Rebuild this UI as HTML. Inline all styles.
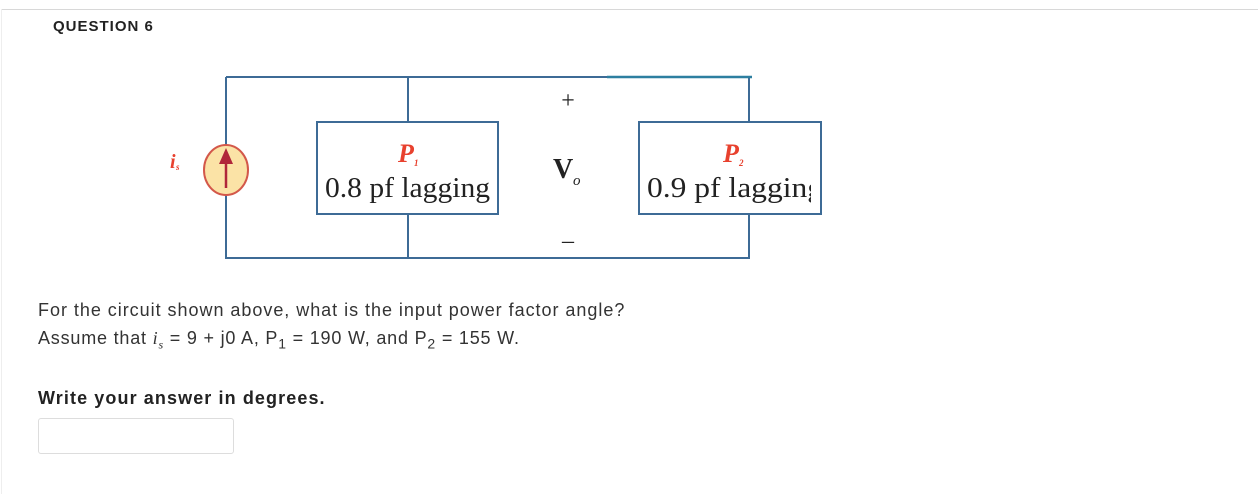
<!DOCTYPE html>
<html><head><style>
body{margin:0;width:1258px;height:494px;background:#fff;position:relative;overflow:hidden;font-family:"Liberation Sans",sans-serif;color:#222}
.t{position:absolute;white-space:nowrap}
</style></head><body>
<div style="position:absolute;left:2px;top:9px;width:1256px;height:1px;background:#d8d8d8"></div>
<div style="position:absolute;left:1px;top:9px;width:1px;height:485px;background:#eee"></div>
<div class="t" style="left:53px;top:18px;font-size:15px;font-weight:bold;color:#222;letter-spacing:1px">QUESTION 6</div>
<svg style="position:absolute;left:0;top:0" width="1258" height="300">
<g stroke="#3d6b96" stroke-width="2" fill="none">
<path d="M226 77H749V122M226 77V145M226 195V258H749V214M408 77V122M408 214V258"/>
<rect x="317" y="122" width="181" height="92" fill="#fff"/>
<rect x="639" y="122" width="182" height="92" fill="#fff"/>
</g>
<path d="M607 77H752" stroke="#2d7fa0" stroke-width="2.5"/>
<ellipse cx="226" cy="170" rx="22" ry="25" fill="#fbe3a6" stroke="#d3584a" stroke-width="2"/>
<path d="M226 188V162" stroke="#b0273a" stroke-width="2.5"/>
<path d="M219 164L226 148L233 164Z" fill="#b0273a"/>
<g font-family="Liberation Serif,serif">
<text x="170" y="168" fill="#e8412e" font-size="20" font-weight="bold" font-style="italic">i</text>
<text x="176" y="170" fill="#e8412e" font-size="9" font-weight="bold" font-style="italic">s</text>
<text x="398" y="162" fill="#e8412e" font-size="26" font-weight="bold" font-style="italic">P</text>
<text x="414" y="166" fill="#e8412e" font-size="9" font-weight="bold" font-style="italic">1</text>
<text x="325" y="197" fill="#222" font-size="28" textLength="165" lengthAdjust="spacingAndGlyphs">0.8 pf lagging</text>
<text x="723" y="162" fill="#e8412e" font-size="26" font-weight="bold" font-style="italic">P</text>
<text x="739" y="166" fill="#e8412e" font-size="9" font-weight="bold" font-style="italic">2</text>
<svg x="640" y="140" width="171" height="70"><text x="7" y="57" fill="#222" font-size="28" textLength="176" lengthAdjust="spacingAndGlyphs">0.9 pf lagging</text></svg>
<text x="553" y="178" fill="#222" font-size="28" font-weight="bold">V</text>
<text x="573" y="185" fill="#222" font-size="15" font-style="italic">o</text>
<text x="568" y="108" fill="#222" font-size="24" text-anchor="middle">+</text>
<text x="568" y="248" fill="#222" font-size="24" text-anchor="middle">–</text>
</g>
</svg>
<div class="t" style="left:38px;top:300px;font-size:18px;color:#333;letter-spacing:0.97px">For the circuit shown above, what is the input power factor angle?</div>
<div class="t" style="left:38px;top:328px;font-size:18px;color:#333;letter-spacing:0.8px">Assume that <i style="font-family:'Liberation Serif',serif">i<sub style="font-size:12px">s</sub></i> = 9 + j0 A, P<sub style="font-size:14px">1</sub> = 190 W, and P<sub style="font-size:14px">2</sub> = 155 W.</div>
<div class="t" style="left:38px;top:388px;font-size:18px;font-weight:bold;color:#222;letter-spacing:1.1px">Write your answer in degrees.</div>
<div style="position:absolute;left:38px;top:418px;width:194px;height:34px;border:1px solid #ddd;border-radius:3px"></div>
</body></html>
